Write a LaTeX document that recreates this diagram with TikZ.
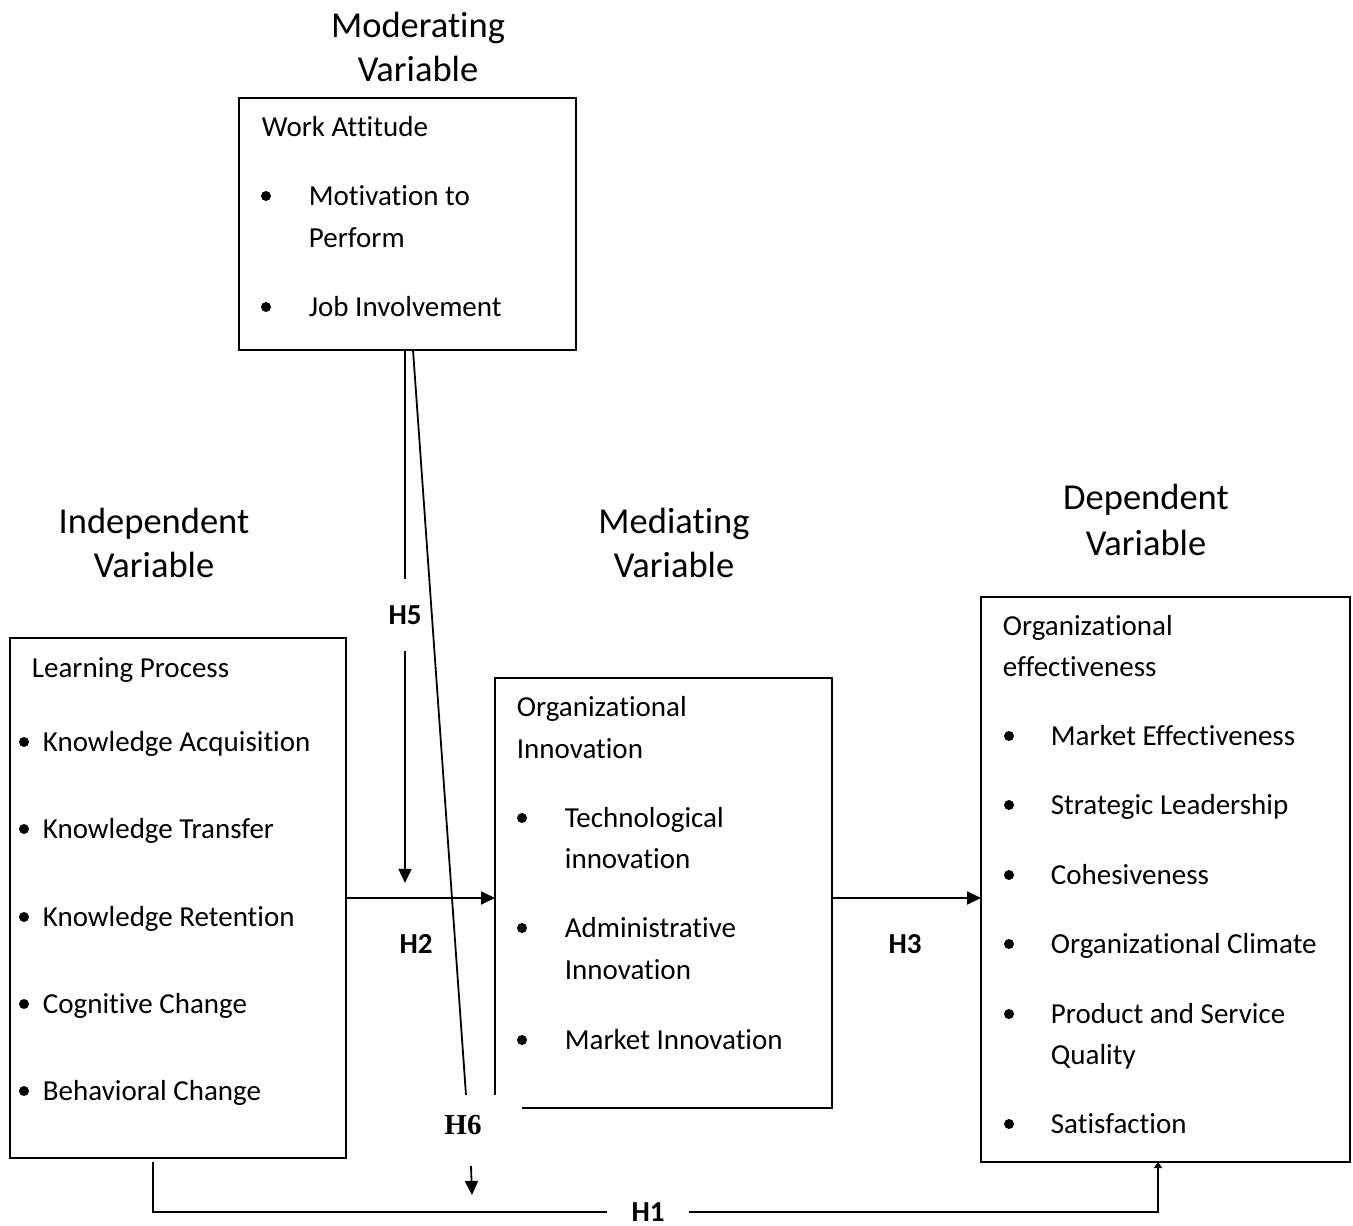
\documentclass[tikz,border=0pt]{standalone}
\usepackage{fontspec}
\setmainfont{Carlito}[RawFeature={-liga;-clig;-calt;-dlig}]
\newfontfamily\timesfont{Liberation Serif}
\usetikzlibrary{arrows.meta}
\newcommand\mybody{\fontsize{29}{35}\selectfont}
\newcommand\mytitle{\fontsize{36.5}{44}\selectfont}
\begin{document}
\begin{tikzpicture}[x=1pt,y=-1pt,line width=1.8pt,
  box/.style={draw,inner sep=0pt,outer sep=0pt},
  txt/.style={anchor=base west,inner sep=0pt,font=\mybody},
  ttl/.style={anchor=base,inner sep=0pt,font=\mytitle},
  hlab/.style={inner sep=0pt,font=\mybody\bfseries},
  bul/.style={circle,fill,draw=none,inner sep=0pt,minimum size=10pt},
  arr/.style={-{Triangle[length=14pt,width=13pt]}},
  arrsmall/.style={-{Triangle[length=6pt,width=8pt]}}]
\fill[white] (0,0) rectangle (1353,1226);
\useasboundingbox (0,0) rectangle (1353,1226);

% titles
\node[ttl] (mod1) at (418,37) {Moderating};
\node[ttl] (mod2) at (418,81) {Variable};
\node[ttl] (ind1) at (154,533) {Independent};
\node[ttl] (ind2) at (154,577) {Variable};
\node[ttl] (med1) at (674,533) {Mediating};
\node[ttl] (med2) at (674,577) {Variable};
\node[ttl] (dep1) at (1146,509) {Dependent};
\node[ttl] (dep2) at (1146,555) {Variable};

% boxes
\node[box,minimum width=337pt,minimum height=252pt] (wa) at (407.5,224) {};
\node[box,minimum width=336pt,minimum height=520pt] (lp) at (178,898) {};
\node[inner sep=0pt,outer sep=0pt,minimum width=337pt,minimum height=430pt] (oi) at (663.5,893) {};
\draw ([yshift=13pt]oi.south west) -- (oi.north west) -- (oi.north east)
      -- (oi.south east) -- ([xshift=27pt]oi.south west);
\node[box,minimum width=369pt,minimum height=565pt] (oe) at (1165.5,879.5) {};

% work attitude
\node[txt] (wa0) at (261,136) {Work Attitude};
\node[bul] (wab1) at (266,196) {};
\node[txt] (wa1) at (308,205) {Motivation to};
\node[txt] (wa2) at (308,247) {Perform};
\node[bul] (wab2) at (266,307) {};
\node[txt] (wa3) at (308,316) {Job Involvement};

% learning process
\node[txt] (lp0) at (31,677) {Learning Process};
\node[bul] (lpb1) at (24,742) {};
\node[txt] (lp1) at (42,751) {Knowledge Acquisition};
\node[bul] (lpb2) at (24,829) {};
\node[txt] (lp2) at (42,838) {Knowledge Transfer};
\node[bul] (lpb3) at (24,917) {};
\node[txt] (lp3) at (42,926) {Knowledge Retention};
\node[bul] (lpb4) at (24,1004) {};
\node[txt] (lp4) at (42,1013) {Cognitive Change};
\node[bul] (lpb5) at (24,1091) {};
\node[txt] (lp5) at (42,1100) {Behavioral Change};

% organizational innovation
\node[txt] (oi0) at (516,716) {Organizational};
\node[txt] (oi0b) at (516,758) {Innovation};
\node[bul] (oib1) at (522,818) {};
\node[txt] (oi1) at (564,827) {Technological};
\node[txt] (oi1b) at (564,868) {innovation};
\node[bul] (oib2) at (522,928) {};
\node[txt] (oi2) at (564,937) {Administrative};
\node[txt] (oi2b) at (564,979) {Innovation};
\node[bul] (oib3) at (522,1040) {};
\node[txt] (oi3) at (564,1049) {Market Innovation};

% organizational effectiveness
\node[txt] (oe0) at (1002,635) {Organizational};
\node[txt] (oe0b) at (1002,676) {effectiveness};
\node[bul] (oeb1) at (1009,736) {};
\node[txt] (oe1) at (1050,745) {Market Effectiveness};
\node[bul] (oeb2) at (1009,805) {};
\node[txt] (oe2) at (1050,814) {Strategic Leadership};
\node[bul] (oeb3) at (1009,875) {};
\node[txt] (oe3) at (1050,884) {Cohesiveness};
\node[bul] (oeb4) at (1009,944) {};
\node[txt] (oe4) at (1050,953) {Organizational Climate};
\node[bul] (oeb5) at (1009,1014) {};
\node[txt] (oe5) at (1050,1023) {Product and Service};
\node[txt] (oe5b) at (1050,1064) {Quality};
\node[bul] (oeb6) at (1009,1124) {};
\node[txt] (oe6) at (1050,1133) {Satisfaction};

% hypothesis labels
\node[hlab,minimum height=70pt] (h5) at (405,615) {H5};
\node[hlab] (h2) at (416,944) {H2};
\node[hlab] (h3) at (905,944) {H3};
\node[hlab,minimum width=80pt] (h1) at (648,1212) {H1};
\node[inner sep=0pt,font=\fontsize{29}{35}\timesfont\bfseries] (h6) at (463,1125) {H6};
\coordinate (d6) at (466,1095);
\coordinate (h6a) at (471,1166);
\coordinate (h6b) at (472,1195);

% connectors
\draw (wa.south -| h5.north) -- (h5.north);
\draw[arr] (h5.south) -- ++(0,232);
\draw ([xshift=5.5pt]wa.south) -- (d6);
\draw[arr] (h6a) -- (h6b);
\draw[arr] (lp.east) -- (lp.east -| oi.west);
\draw[arr] (oi.east |- lp.east) -- (lp.east -| oe.west);
\draw ([xshift=-25pt,yshift=-4pt]lp.south) |- (h1.west);
\draw[arrsmall] (h1.east) -| ([xshift=-7.5pt]oe.south);
\end{tikzpicture}
\end{document}
